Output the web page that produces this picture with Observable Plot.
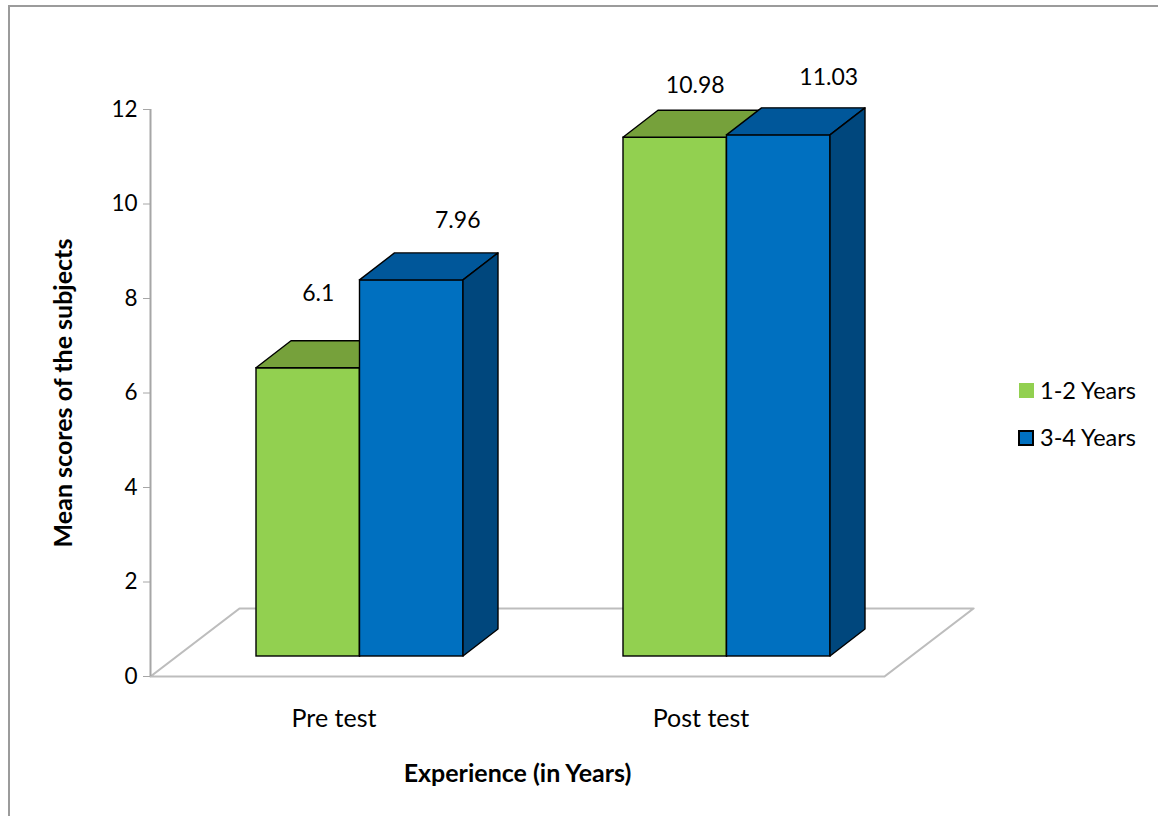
<!DOCTYPE html>
<html><head><meta charset="utf-8">
<script src="https://cdn.jsdelivr.net/npm/d3@7"></script>
<script src="https://cdn.jsdelivr.net/npm/@observablehq/plot@0.6"></script>
<style>
body{margin:0;background:#fff;}
#wrap{position:relative;width:1158px;height:816px;overflow:hidden;font-family:Lato,sans-serif;background:#fff;}
#frame{position:absolute;left:8px;top:5px;width:1300px;height:1000px;border-left:2px solid #9b9b9b;border-top:2px solid #9b9b9b;}
#chart{position:absolute;left:0;top:0;}
.sw{position:absolute;box-sizing:border-box;}
.lt{position:absolute;font-size:23.5px;line-height:26px;color:#000;white-space:nowrap;}
</style></head><body>
<div id="wrap"><div id="frame"></div><div id="chart"></div><div id="legend"></div></div>
<script>
// ---- data ----
const categories = ["Pre test", "Post test"];
const seriesNames = ["1-2 Years", "3-4 Years"];
const values12 = [6.1, 10.98];
const values34 = [7.96, 11.03];
const yTicks = [0, 2, 4, 6, 8, 10, 12];
const yLabel = "Mean scores of the subjects";
const xLabel = "Experience (in Years)";

// ---- styles ----
const frontColors = ["#92D050", "#0070C0"];
const topColors = ["#76A13B", "#00579A"];
const sideColors = ["#6E9A36", "#00477D"];

const W = 1158, H = 816, mL = 150, mR = 274, mT = 109, mB = 140;
const xDomain = [0.5, categories.length + 0.5];
const yDomain = [0, 12];
const pxX = (W - mL - mR) / (xDomain[1] - xDomain[0]);
const pxY = (H - mT - mB) / (yDomain[1] - yDomain[0]);
const barW = 103.5 / pxX;                 // bar width in x units
const base = {dx: 26, dy: -20};           // bar placement inside the floor depth (px)
const depth = {x: 35 / pxX, y: 27 / pxY}; // bar depth
const floorDepth = {x: 89 / pxX, y: 68 / pxY};

const seriesValues = [values12, values34];
const bars = seriesNames.map((s, j) => categories.map((c, i) => ({
  id: s + "|" + c, series: s, cat: c, value: seriesValues[j][i], base: 0,
  x1: (i + 1) + (j - 1) * barW, x2: (i + 1) + j * barW
})));

const floorPts = [
  {x: xDomain[0], y: 0}, {x: xDomain[1], y: 0},
  {x: xDomain[1] + floorDepth.x, y: floorDepth.y},
  {x: xDomain[0] + floorDepth.x, y: floorDepth.y},
  {x: xDomain[0], y: 0}
];

// label offsets (px) per series, per category
const labelOffsets = [
  [{dx: 36, dy: -95}, {dx: 46, dy: -72}],
  [{dx: 72, dy: -80}, {dx: 76, dy: -78}]
];

const marks = [];
marks.push(Plot.line(floorPts, {x: "x", y: "y", stroke: "#bdbdbd", strokeWidth: 2.2}));
marks.push(Plot.ruleX([{x: xDomain[0], y1: yDomain[0], y2: yDomain[1]}], {x: "x", y1: "y1", y2: "y2", stroke: "#a6a6a6", strokeWidth: 2}));

bars.forEach((data, j) => {
  marks.push(Plot.rect(data, {x1: "x1", x2: "x2", y1: "base", y2: "value", fill: frontColors[j], stroke: "#000", strokeWidth: 1.4, dx: base.dx, dy: base.dy}));
  const topData = data.flatMap(b => [
    {id: b.id, y: b.value, x1: b.x1, x2: b.x2},
    {id: b.id, y: b.value + depth.y, x1: b.x1 + depth.x, x2: b.x2 + depth.x}
  ]);
  marks.push(Plot.areaX(topData, {y: "y", x1: "x1", x2: "x2", z: "id", fill: topColors[j], stroke: "#000", strokeWidth: 1.4, strokeLinejoin: "round", dx: base.dx, dy: base.dy}));
  const sideData = data.flatMap(b => [
    {id: b.id, x: b.x2, y1: b.base, y2: b.value},
    {id: b.id, x: b.x2 + depth.x, y1: b.base + depth.y, y2: b.value + depth.y}
  ]);
  marks.push(Plot.areaY(sideData, {x: "x", y1: "y1", y2: "y2", z: "id", fill: sideColors[j], stroke: "#000", strokeWidth: 1.4, strokeLinejoin: "round", dx: base.dx, dy: base.dy}));
});

bars.forEach((data, j) => {
  data.forEach((d, i) => {
    marks.push(Plot.text([d], {x: b => (b.x1 + b.x2) / 2, y: "value", text: b => String(b.value), fill: "#000", fontSize: 23, dx: labelOffsets[j][i].dx, dy: labelOffsets[j][i].dy}));
  });
});

marks.push(Plot.axisY({ticks: yTicks, tickSize: 7, tickPadding: 6, stroke: "#a6a6a6", fill: "#000", fontSize: 22.5, label: null}));
marks.push(Plot.axisX({ticks: categories.map((c, i) => i + 1), tickFormat: d => categories[d - 1], tickSize: 0, tickPadding: 33, fill: "#000", fontSize: 25, label: null}));
marks.push(Plot.text([yLabel], {frameAnchor: "left", rotate: -90, textAnchor: "middle", lineAnchor: "middle", dx: -87, fontWeight: "bold", fontSize: 25, fill: "#000"}));
marks.push(Plot.text([xLabel], {frameAnchor: "bottom", textAnchor: "middle", lineAnchor: "middle", dy: 97, fontWeight: "bold", fontSize: 25, fill: "#000"}));

const chart = Plot.plot({
  width: W, height: H,
  marginLeft: mL, marginRight: mR, marginTop: mT, marginBottom: mB,
  x: {type: "linear", domain: xDomain, axis: null},
  y: {type: "linear", domain: yDomain, axis: null},
  style: {fontFamily: "Lato, sans-serif", fontSize: "22px", color: "#000", background: "transparent", overflow: "visible"},
  marks
});
document.getElementById("chart").appendChild(chart);

// ---- legend ----
const legend = document.getElementById("legend");
const legendTop = [383, 430];
seriesNames.forEach((s, j) => {
  const sw = document.createElement("div");
  sw.className = "sw";
  sw.style.left = (j === 0 ? 1019 : 1018) + "px";
  sw.style.top = legendTop[j] + "px";
  sw.style.width = (j === 0 ? 15 : 16) + "px";
  sw.style.height = (j === 0 ? 15 : 16) + "px";
  sw.style.background = frontColors[j];
  if (j === 1) sw.style.border = "2px solid #000";
  legend.appendChild(sw);
  const t = document.createElement("div");
  t.className = "lt";
  t.style.left = "1040px";
  t.style.top = (legendTop[j] - 6) + "px";
  t.textContent = s;
  legend.appendChild(t);
});
</script>
</body></html>
